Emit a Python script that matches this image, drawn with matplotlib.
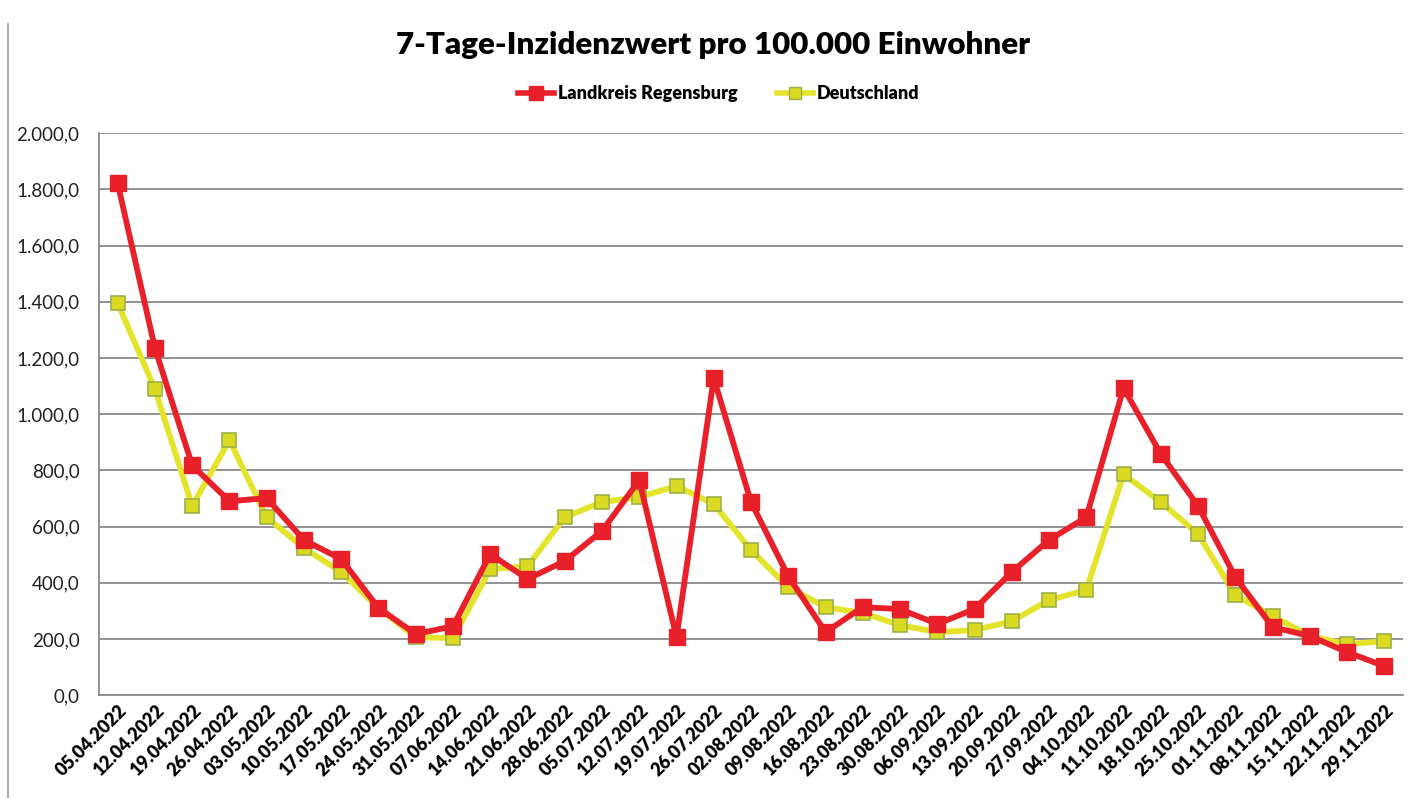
import matplotlib
matplotlib.use("Agg")
from matplotlib import pyplot as plt
from matplotlib.ticker import FuncFormatter, MultipleLocator
from matplotlib.lines import Line2D

dates = ["05.04.2022", "12.04.2022", "19.04.2022", "26.04.2022", "03.05.2022",
         "10.05.2022", "17.05.2022", "24.05.2022", "31.05.2022", "07.06.2022",
         "14.06.2022", "21.06.2022", "28.06.2022", "05.07.2022", "12.07.2022",
         "19.07.2022", "26.07.2022", "02.08.2022", "09.08.2022", "16.08.2022",
         "23.08.2022", "30.08.2022", "06.09.2022", "13.09.2022", "20.09.2022",
         "27.09.2022", "04.10.2022", "11.10.2022", "18.10.2022", "25.10.2022",
         "01.11.2022", "08.11.2022", "15.11.2022", "22.11.2022", "29.11.2022"]

regensburg = [1822, 1235, 818, 690, 701, 552, 484, 310, 217, 245,
              502, 413, 477, 584, 765, 206, 1128, 687, 423, 224,
              313, 306, 253, 306, 438, 552, 633, 1093, 858, 673,
              420, 242, 210, 153, 103]

deutschland = [1395, 1089, 673, 907, 633, 523, 438, 310, 206, 203,
               448, 459, 633, 687, 705, 744, 680, 516, 384, 313,
               292, 249, 224, 231, 263, 338, 374, 786, 687, 573,
               356, 281, 210, 181, 192]

font = ["Lato", "DejaVu Sans"]
plt.rcParams['font.family'] = font

fig = plt.figure(figsize=(14.15, 7.98), dpi=100)
ax = fig.add_axes([0.070, 0.129, 0.9215, 0.704])

x = list(range(len(dates)))
red = "#E8202A"
yel = "#E4E42C"

ax.plot(x, deutschland, color=yel, lw=4.2, marker="s", ms=9.5,
        mfc="#DADA22", mec="#9DB048", mew=1.2, zorder=3)
ax.plot(x, regensburg, color=red, lw=4.2, marker="s", ms=11,
        mfc=red, mec=red, zorder=4)

ax.set_xlim(-0.5, len(dates) - 0.5)
ax.set_ylim(0, 2000)
ax.yaxis.set_major_locator(MultipleLocator(200))

def de_fmt(v, pos):
    s = "{:,.1f}".format(v)
    return s.replace(",", "X").replace(".", ",").replace("X", ".")

ax.yaxis.set_major_formatter(FuncFormatter(de_fmt))
ax.grid(axis="y", color="#8a8a8a", lw=1.3)
ax.set_axisbelow(True)
for s in ["top", "right"]:
    ax.spines[s].set_visible(False)
ax.spines["left"].set_color("#8a8a8a")
ax.spines["bottom"].set_color("#8a8a8a")
ax.spines["left"].set_linewidth(1.3)
ax.spines["bottom"].set_linewidth(1.3)
ax.tick_params(axis="y", length=0, labelsize=13.5, pad=14, colors="#222222")
ax.tick_params(axis="x", length=0, pad=5)

ax.set_xticks(x)
ax.set_xticklabels(dates, rotation=45, ha="right", rotation_mode="anchor",
                   fontsize=13, fontweight="heavy")

fig.text(0.504, 0.944, "7-Tage-Inzidenzwert pro 100.000 Einwohner",
         ha="center", va="center", fontsize=22.5, fontweight="heavy")

handles = [
    Line2D([], [], color=red, lw=4, marker="s", ms=10, mfc=red, mec=red),
    Line2D([], [], color=yel, lw=4, marker="s", ms=9, mfc="#DADA22", mec="#9DB048"),
]
fig.legend(handles, ["Landkreis Regensburg", "Deutschland"], loc="center",
           bbox_to_anchor=(0.508, 0.883), ncol=2, frameon=False,
           handlelength=2.0, handletextpad=0.2, columnspacing=2.2,
           prop={"weight": "heavy", "size": 13})

# image frame on the left
fig.add_artist(Line2D([0.006, 0.006], [0.0, 0.97], color="#999999", lw=1.2))

fig.savefig("out.png", dpi=100)
